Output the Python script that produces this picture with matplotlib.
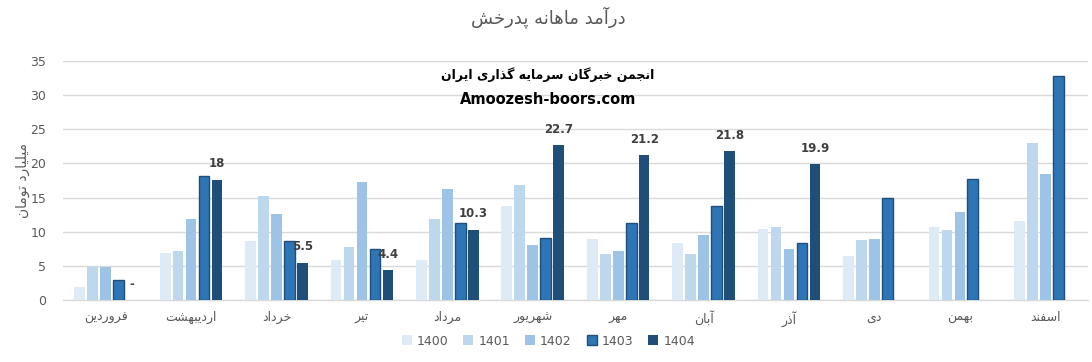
import matplotlib
matplotlib.use("Agg")
import matplotlib.pyplot as plt
import matplotlib.patches as mpatches
import numpy as np

# --- data (billion toman) ---
months = ["فروردین", "اردیبهشت", "خرداد", "تیر", "مرداد", "شهریور",
          "مهر", "آبان", "آذر", "دی", "بهمن", "اسفند"]
years = ["1400", "1401", "1402", "1403", "1404"]
v1400 = [1.9, 6.9, 8.7, 5.9, 5.9, 13.8, 9.0, 8.4, 10.4, 6.4, 10.7, 11.6]
v1401 = [4.9, 7.2, 15.3, 7.7, 11.9, 16.9, 6.7, 6.7, 10.7, 8.8, 10.3, 23.0]
v1402 = [4.9, 11.9, 12.6, 17.3, 16.3, 8.1, 7.2, 9.5, 7.5, 8.9, 12.9, 18.5]
v1403 = [2.9, 18.2, 8.6, 7.5, 11.3, 9.1, 11.3, 13.8, 8.4, 14.9, 17.7, 32.8]
v1404 = [0.0, 17.6, 5.5, 4.4, 10.3, 22.7, 21.2, 21.8, 19.9, np.nan, np.nan, np.nan]
labels1404 = ["-", "18", "5.5", "4.4", "10.3", "22.7", "21.2", "21.8", "19.9", "", "", ""]

title = "درآمد ماهانه پدرخش"
ylabel = "میلیارد تومان"
watermark1 = "انجمن خبرگان سرمایه گذاری ایران"
watermark2 = "Amoozesh-boors.com"

colors = ["#DEEBF7", "#BDD7EE", "#9DC3E6", "#2E75B6", "#1F4E79"]

# --- minimal Persian shaping (no reshaper lib available) ---
FORMS = {
    "\u0627": ("\uFE8D", "\uFE8E", None, None),
    "\u0622": ("\uFE81", "\uFE82", None, None),
    "\u0628": ("\uFE8F", "\uFE90", "\uFE91", "\uFE92"),
    "\u067E": ("\uFB56", "\uFB57", "\uFB58", "\uFB59"),
    "\u062A": ("\uFE95", "\uFE96", "\uFE97", "\uFE98"),
    "\u062B": ("\uFE99", "\uFE9A", "\uFE9B", "\uFE9C"),
    "\u062C": ("\uFE9D", "\uFE9E", "\uFE9F", "\uFEA0"),
    "\u0686": ("\uFB7A", "\uFB7B", "\uFB7C", "\uFB7D"),
    "\u062D": ("\uFEA1", "\uFEA2", "\uFEA3", "\uFEA4"),
    "\u062E": ("\uFEA5", "\uFEA6", "\uFEA7", "\uFEA8"),
    "\u062F": ("\uFEA9", "\uFEAA", None, None),
    "\u0630": ("\uFEAB", "\uFEAC", None, None),
    "\u0631": ("\uFEAD", "\uFEAE", None, None),
    "\u0632": ("\uFEAF", "\uFEB0", None, None),
    "\u0698": ("\uFB8A", "\uFB8B", None, None),
    "\u0633": ("\uFEB1", "\uFEB2", "\uFEB3", "\uFEB4"),
    "\u0634": ("\uFEB5", "\uFEB6", "\uFEB7", "\uFEB8"),
    "\u0635": ("\uFEB9", "\uFEBA", "\uFEBB", "\uFEBC"),
    "\u0636": ("\uFEBD", "\uFEBE", "\uFEBF", "\uFEC0"),
    "\u0637": ("\uFEC1", "\uFEC2", "\uFEC3", "\uFEC4"),
    "\u0638": ("\uFEC5", "\uFEC6", "\uFEC7", "\uFEC8"),
    "\u0639": ("\uFEC9", "\uFECA", "\uFECB", "\uFECC"),
    "\u063A": ("\uFECD", "\uFECE", "\uFECF", "\uFED0"),
    "\u0641": ("\uFED1", "\uFED2", "\uFED3", "\uFED4"),
    "\u0642": ("\uFED5", "\uFED6", "\uFED7", "\uFED8"),
    "\u06A9": ("\uFB8E", "\uFB8F", "\uFB90", "\uFB91"),
    "\u06AF": ("\uFB92", "\uFB93", "\uFB94", "\uFB95"),
    "\u0644": ("\uFEDD", "\uFEDE", "\uFEDF", "\uFEE0"),
    "\u0645": ("\uFEE1", "\uFEE2", "\uFEE3", "\uFEE4"),
    "\u0646": ("\uFEE5", "\uFEE6", "\uFEE7", "\uFEE8"),
    "\u0648": ("\uFEED", "\uFEEE", None, None),
    "\u0647": ("\uFEE9", "\uFEEA", "\uFEEB", "\uFEEC"),
    "\u06CC": ("\uFBFC", "\uFBFD", "\uFBFE", "\uFBFF"),
}


def fa(text):
    chars = list(text)
    out = []
    for i, c in enumerate(chars):
        if c not in FORMS:
            out.append(c)
            continue
        prev = chars[i - 1] if i > 0 else None
        nxt = chars[i + 1] if i + 1 < len(chars) else None
        join_prev = prev in FORMS and FORMS[prev][2] is not None
        join_next = nxt in FORMS and FORMS[c][2] is not None
        iso, fin, ini, med = FORMS[c]
        if join_prev and join_next:
            out.append(med)
        elif join_prev:
            out.append(fin)
        elif join_next:
            out.append(ini)
        else:
            out.append(iso)
    return "".join(reversed(out))


plt.rcParams["font.family"] = ["DejaVu Sans"]

fig = plt.figure(figsize=(10.92, 3.62), dpi=100)
ax = fig.add_axes([0.0577, 0.171, 0.9386, 0.6605])

x = np.arange(len(months))
series = [v1400, v1401, v1402, v1403, v1404]
width = 0.125
step = 0.152
for k, vals in enumerate(series):
    off = (k - 2) * step
    if k == 3:
        ax.bar(x + off, vals, width, color=colors[k], edgecolor="#1F4E79",
               linewidth=1.0, zorder=3)
    else:
        ax.bar(x + off, vals, width, color=colors[k], linewidth=0, zorder=3)

# data labels on 1404
for i, lab in enumerate(labels1404):
    if lab == "":
        continue
    ax.annotate(lab, (x[i] + 2 * step, v1404[i]), xytext=(0, 11.5),
                textcoords="offset points", ha="center", va="center",
                fontsize=8.5, fontweight="bold", color="#404040", zorder=4)

ax.set_xlim(-0.5, len(months) - 0.5)
ax.set_ylim(0, 35)
ax.set_yticks(np.arange(0, 36, 5))
ax.set_xticks(x)
ax.set_xticklabels([fa(m) for m in months], fontsize=8.5, color="#595959")
ax.tick_params(axis="both", length=0, labelsize=9, labelcolor="#595959")
ax.tick_params(axis="x", pad=8)
ax.tick_params(axis="y", pad=12)
ax.grid(axis="y", color="#D9D9D9", linewidth=1.0, zorder=0)
ax.set_axisbelow(True)
for s in ["top", "right", "left"]:
    ax.spines[s].set_visible(False)
ax.spines["bottom"].set_color("#D9D9D9")
ax.spines["bottom"].set_linewidth(1.0)

fig.text(0.502, 0.953, fa(title), ha="center", va="center", fontsize=13,
         color="#595959")
fig.text(0.021, 0.50, fa(ylabel), ha="center", va="center", rotation=90,
         fontsize=10, color="#595959")
fig.text(0.502, 0.793, fa(watermark1), ha="center", va="center", fontsize=9,
         fontweight="bold", color="black")
fig.text(0.502, 0.724, watermark2, ha="center", va="center", fontsize=10.5,
         fontweight="bold", color="black")

handles = []
for k, yr in enumerate(years):
    if k == 3:
        handles.append(mpatches.Patch(facecolor=colors[k], edgecolor="#1F4E79",
                                      linewidth=1.0, label=yr))
    else:
        handles.append(mpatches.Patch(facecolor=colors[k], label=yr))
fig.legend(handles=handles, loc="center", bbox_to_anchor=(0.502, 0.058), ncol=5,
           frameon=False, fontsize=9, labelcolor="#595959", handlelength=0.8,
           handleheight=0.8, handletextpad=0.4, columnspacing=1.2)

fig.savefig("out.png", dpi=100)
